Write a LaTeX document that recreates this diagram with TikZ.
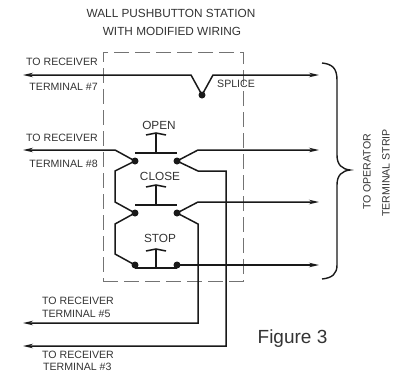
\documentclass[tikz,border=0pt]{standalone}
\usepackage{fontspec}
\setmainfont{Liberation Sans}
\usetikzlibrary{arrows.meta}

\begin{document}
\begin{tikzpicture}[x=1pt,y=-1pt,font=\fontsize{10.6}{12}\selectfont,text=black!80]

	% Define styles
	\tikzset{
		wire/.style={line width=1.5pt,black!90},
		arrow/.style={wire,-{Stealth[length=10pt,width=4.5pt]}},
		contact/.style={circle,fill=black!90,inner sep=0pt,minimum size=7pt},
		label/.style={inner sep=0pt,align=center},
		biglabel/.style={label,font=\fontsize{11.8}{13}\selectfont},
		boxline/.style={line width=0.8pt,black!55,dash pattern=on 15pt off 6pt},
		plunger/.style={line width=1.5pt,black!90}
	}
	\useasboundingbox (0,0) rectangle (402,373);

	% Station outline
	\node (station) [boxline,draw,minimum width=140pt,minimum height=229pt,inner sep=0pt] at (173,166.5) {};

	% Contacts
	\node (splice) [contact] at (202,95) {};
	\node (openl) [contact] at (135,161) {};
	\node (openr) [contact] at (177,161) {};
	\node (closel) [contact] at (135,213) {};
	\node (closer) [contact] at (177,213) {};
	\node (stopl) [contact] at (135,265) {};
	\node (stopr) [contact] at (177,265) {};

	% Wire ends
	\coordinate (rx7) at (23,75);
	\coordinate (rx8) at (23,150);
	\coordinate (rx5) at (23,323);
	\coordinate (rx3) at (23,346);
	\coordinate (strip1) at (319,75);
	\coordinate (strip2) at (319,150);
	\coordinate (strip3) at (319,202);
	\coordinate (strip4) at (319,265);

	% Arrows
	\draw [arrow] (splice.center) -- (191,75) -- (rx7);
	\draw [arrow] (splice.center) -- (213,75) -- (strip1);
	\draw [arrow] (openl.center) -- (115,150) -- (rx8);
	\draw [arrow] (openr.center) -- (198,150) -- (strip2);
	\draw [arrow] (openr.center) -- (198,171) -- (226,171) -- (226,346) -- (rx3);
	\draw [arrow] (closer.center) -- (198,202) -- (strip3);
	\draw [arrow] (closer.center) -- (198,224) -- (198,323) -- (rx5);
	\draw [arrow] (stopr.center) -- (strip4);
	\draw [wire] (openl.center) -- (115,171) -- (115,202) -- (closel.center);
	\draw [wire] (closel.center) -- (115,224) -- (115,254) -- (stopl.center);

	% Pushbuttons
	\foreach \name/\ybar/\ytip in {open/153/133,close/205/185,stop/268/249} {
		\draw [plunger] (135,\ybar) -- (177,\ybar);
		\draw [plunger] (156,\ybar) -- (156,\ytip);
		\draw [plunger] (146,\ytip+2) -- (156,\ytip) -- (166,\ytip+2);
	}

	% Brace
	\draw [line width=1.4pt,black!90] (322,63) .. controls (332,64) and (337,68) .. (337,80)
		-- (337,155) .. controls (337,165) and (342,169) .. (350,170)
		.. controls (342,171) and (337,175) .. (337,185)
		-- (337,265) .. controls (337,274) and (332,278) .. (322,279);

	% Labels
	\node (title1) [biglabel] at (171,13) {WALL PUSHBUTTON STATION};
	\node (title2) [biglabel] at (172,31) {WITH MODIFIED WIRING};
	\node (lab7a) [label,anchor=east] at (98,62) {TO RECEIVER};
	\node (lab7b) [label,anchor=east] at (98,87) {TERMINAL \#7};
	\node (lab8a) [label,anchor=east] at (98,138) {TO RECEIVER};
	\node (lab8b) [label,anchor=east] at (98,164) {TERMINAL \#8};
	\node (labsplice) [label,anchor=west] at (217,84) {SPLICE};
	\node (labopen) [biglabel] at (159,125) {OPEN};
	\node (labclose) [biglabel] at (160,176) {CLOSE};
	\node (labstop) [biglabel] at (160,238) {STOP};
	\node (lab5a) [label,anchor=west] at (42,301) {TO RECEIVER};
	\node (lab5b) [label,anchor=west] at (42,314) {TERMINAL \#5};
	\node (lab3a) [label,anchor=west] at (42,355) {TO RECEIVER};
	\node (lab3b) [label,anchor=west] at (43,367) {TERMINAL \#3};
	\node (strip1lab) [label,rotate=90] at (367,172) {TO OPERATOR};
	\node (strip2lab) [label,rotate=90] at (386,173) {TERMINAL STRIP};
	\node (fig) [label,font=\fontsize{19}{21}\selectfont] at (292.5,339) {Figure 3};
\end{tikzpicture}
\end{document}
